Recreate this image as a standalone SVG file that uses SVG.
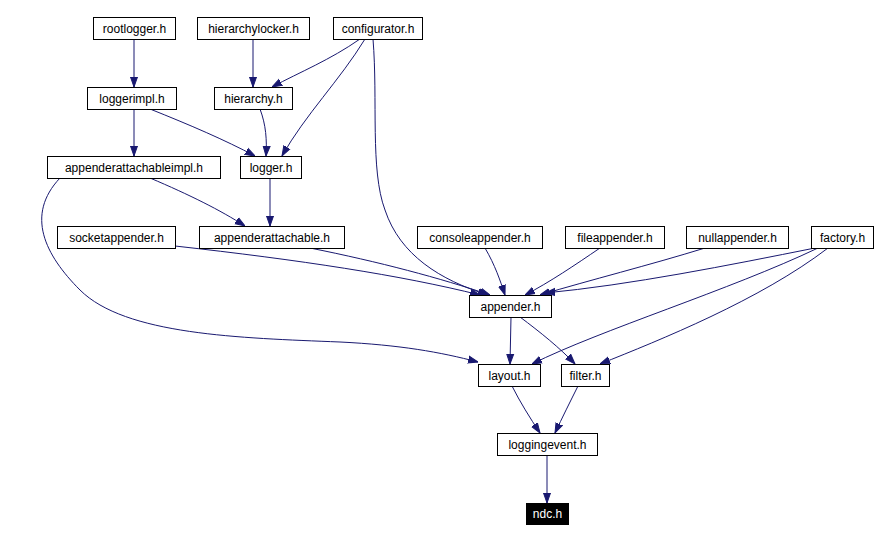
<svg xmlns="http://www.w3.org/2000/svg" width="878" height="540" viewBox="0 0 878 540">
<style>
.n rect{fill:#fff;stroke:#000;stroke-width:1}
.n text{font-family:"Liberation Sans",Arial,sans-serif;font-size:12px;text-anchor:middle;fill:#000}
#ndc rect{fill:#000}
#ndc text{fill:#fff}
#edges path{fill:none;stroke:#191970;stroke-width:1;marker-end:url(#a)}
</style>
<defs><marker id="a" viewBox="0 0 10 10" refX="10" refY="5" markerWidth="10" markerHeight="10" markerUnits="userSpaceOnUse" orient="auto"><path d="M0,1.5 L10,5 L0,8.5 z" fill="#191970" stroke="#191970"/></marker></defs>
<rect width="878" height="540" fill="#fff"/>
<g id="edges">
<path d="M134,39 L134,87"/>
<path d="M253,39 L253,87"/>
<path d="M360,39 C330,60 300,72 272,87"/>
<path d="M365,39 C340,80 305,115 282,156"/>
<path d="M373,39 C378,100 370,170 385,210 C400,255 440,280 488,295"/>
<path d="M150,109 C190,125 225,140 255,156"/>
<path d="M134,109 L134,156"/>
<path d="M260,109 C266,125 267,140 266,156"/>
<path d="M150,178 C190,195 220,210 245,226"/>
<path d="M60,178 C25,215 45,255 80,290 C125,335 240,338 340,342 C400,345 440,352 478,362"/>
<path d="M270,178 L270,226"/>
<path d="M175,246 C300,260 400,275 480,295"/>
<path d="M310,248 C380,262 440,278 490,295"/>
<path d="M485,248 C495,265 500,280 505,295"/>
<path d="M600,248 C575,265 550,282 525,295"/>
<path d="M705,248 C650,265 590,280 540,295"/>
<path d="M815,248 C730,265 630,285 545,293"/>
<path d="M818,248 C730,290 600,330 532,364"/>
<path d="M828,248 C760,300 660,340 600,364"/>
<path d="M511,317 L510,364"/>
<path d="M520,317 C540,332 560,348 575,364"/>
<path d="M512,386 C520,402 530,418 540,433"/>
<path d="M578,386 C570,402 562,418 555,433"/>
<path d="M547,455 L547,503"/>
</g>
<g id="rootlogger" class="n"><rect x="93.5" y="17.5" width="82" height="22"/><text x="134.5" y="33">rootlogger.h</text></g>
<g id="hierarchylocker" class="n"><rect x="197.5" y="17.5" width="112" height="22"/><text x="253.5" y="33">hierarchylocker.h</text></g>
<g id="configurator" class="n"><rect x="333.5" y="17.5" width="89" height="22"/><text x="378" y="33">configurator.h</text></g>
<g id="loggerimpl" class="n"><rect x="87.5" y="87.5" width="89" height="22"/><text x="132" y="103">loggerimpl.h</text></g>
<g id="hierarchy" class="n"><rect x="214.5" y="87.5" width="78" height="22"/><text x="253.5" y="103">hierarchy.h</text></g>
<g id="appenderattachableimpl" class="n"><rect x="47.5" y="156.5" width="173" height="22"/><text x="134" y="172">appenderattachableimpl.h</text></g>
<g id="logger" class="n"><rect x="240.5" y="156.5" width="61" height="22"/><text x="271" y="172">logger.h</text></g>
<g id="socketappender" class="n"><rect x="57.5" y="226.5" width="118" height="22"/><text x="116.5" y="242">socketappender.h</text></g>
<g id="appenderattachable" class="n"><rect x="199.5" y="226.5" width="145" height="22"/><text x="272" y="242">appenderattachable.h</text></g>
<g id="consoleappender" class="n"><rect x="417.5" y="226.5" width="125" height="22"/><text x="480" y="242">consoleappender.h</text></g>
<g id="fileappender" class="n"><rect x="565.5" y="226.5" width="99" height="22"/><text x="615" y="242">fileappender.h</text></g>
<g id="nullappender" class="n"><rect x="686.5" y="226.5" width="102" height="22"/><text x="737.5" y="242">nullappender.h</text></g>
<g id="factory" class="n"><rect x="811.5" y="226.5" width="62" height="22"/><text x="842.5" y="242">factory.h</text></g>
<g id="appender" class="n"><rect x="469.5" y="295.5" width="82" height="22"/><text x="510.5" y="311">appender.h</text></g>
<g id="layout" class="n"><rect x="478.5" y="364.5" width="62" height="22"/><text x="509.5" y="380">layout.h</text></g>
<g id="filter" class="n"><rect x="561.5" y="364.5" width="48" height="22"/><text x="585.5" y="380">filter.h</text></g>
<g id="loggingevent" class="n"><rect x="497.5" y="433.5" width="100" height="22"/><text x="547.5" y="449">loggingevent.h</text></g>
<g id="ndc" class="n"><rect x="526.5" y="503.5" width="42" height="21"/><text x="547.5" y="518">ndc.h</text></g>
</svg>
